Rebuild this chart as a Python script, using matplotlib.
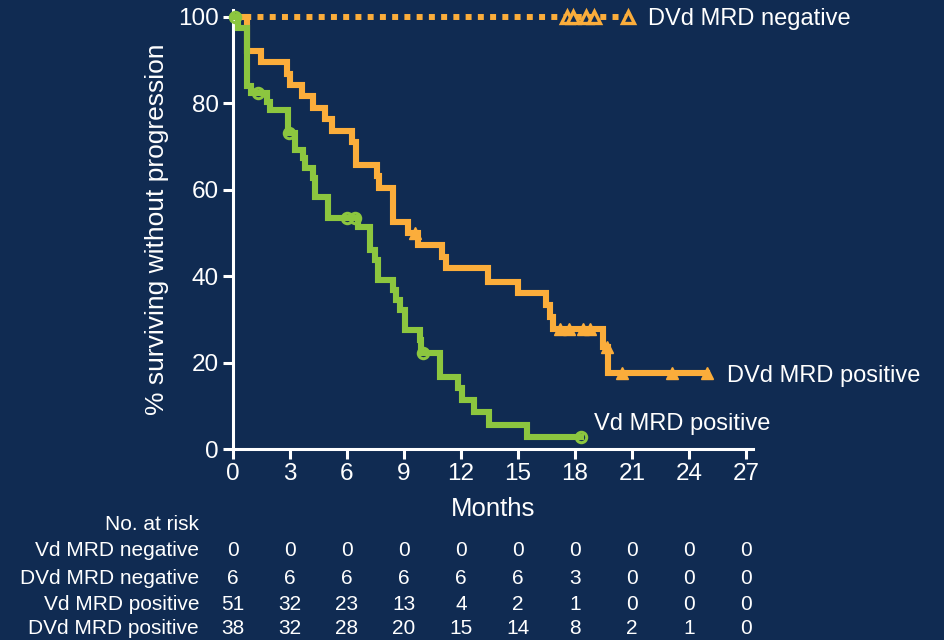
import matplotlib
matplotlib.use("Agg")
import matplotlib.pyplot as plt
from matplotlib.transforms import blended_transform_factory

plt.rcParams["font.family"] = ["Liberation Sans", "DejaVu Sans"]

BG = "#102b52"
ORANGE = "#fbad3b"
GREEN = "#8cc63f"
FG = "white"

# Kaplan-Meier step curves (time in months, % surviving after each step)
vd_pos_t = [0, 0.25, 0.72, 0.95, 1.8, 1.95, 2.9, 3.26, 3.7, 3.8, 4.2, 4.3, 5.0, 6.6,
            7.2, 7.47, 7.63, 8.4, 8.6, 8.8, 9.05, 9.84, 9.9, 10.9, 11.84, 12.05,
            12.7, 13.5, 15.5, 18.3]
vd_pos_s = [100, 97.5, 84.0, 82.5, 80.4, 78.4, 73.2, 69.2, 67.3, 65.0, 62.7, 58.3,
            53.5, 51.4, 46.1, 43.8, 39.1, 36.8, 34.5, 32.2, 27.5, 25.2, 22.2, 16.7,
            14.1, 11.3, 8.6, 5.6, 2.8, 2.8]
vd_pos_cens_t = [0.1, 1.3, 2.97, 6.0, 6.4, 10.0, 18.3]
vd_pos_cens_s = [100, 82.5, 73.2, 53.5, 53.5, 22.2, 2.8]

dvd_pos_t = [0, 0.72, 1.47, 2.84, 3.0, 3.63, 4.2, 4.84, 5.2, 6.26, 6.5, 7.58, 7.68,
             8.42, 9.2, 9.74, 11.0, 11.2, 13.4, 15.0, 16.5, 16.7, 16.85, 19.5,
             19.75, 24.95]
dvd_pos_s = [100, 92.1, 89.5, 86.8, 84.2, 81.6, 78.9, 76.3, 73.7, 71.1, 65.8, 63.2,
             60.5, 52.6, 50.0, 47.2, 44.4, 41.9, 38.7, 36.1, 33.3, 30.6, 27.8, 23.5,
             17.6, 17.6]
dvd_pos_cens_t = [9.58, 17.2, 17.7, 18.4, 18.8, 19.68, 20.5, 23.1, 24.95]
dvd_pos_cens_s = [50.0, 27.8, 27.8, 27.8, 27.8, 23.5, 17.6, 17.6, 17.6]

dvd_neg_t = [0, 20.8]
dvd_neg_s = [100, 100]
dvd_neg_cens_t = [17.6, 17.9, 18.6, 19.0, 20.8]
dvd_neg_cens_s = [100, 100, 100, 100, 100]

# Number-at-risk table
risk_times = [0, 3, 6, 9, 12, 15, 18, 21, 24, 27]
risk_rows = ["Vd MRD negative", "DVd MRD negative", "Vd MRD positive", "DVd MRD positive"]
risk_vd_neg = [0, 0, 0, 0, 0, 0, 0, 0, 0, 0]
risk_dvd_neg = [6, 6, 6, 6, 6, 6, 3, 0, 0, 0]
risk_vd_pos = [51, 32, 23, 13, 4, 2, 1, 0, 0, 0]
risk_dvd_pos = [38, 32, 28, 20, 15, 14, 8, 2, 1, 0]

y_ticks = [0, 20, 40, 60, 80, 100]

W, H = 944, 640
fig = plt.figure(figsize=(W / 100, H / 100), dpi=100, facecolor=BG)
ax = fig.add_axes([233 / W, 1 - 449 / H, (753 - 233) / W, (449 - 10) / H])
ax.set_facecolor(BG)
ax.set_xlim(0, 27.37)
ax.set_ylim(0, 101.6)

lw = 4.4
ax.step(dvd_neg_t, dvd_neg_s, where="post", color=ORANGE, lw=4.3,
        linestyle=(0, (1, 1.05)), dash_capstyle="butt", clip_on=False, zorder=3)
ax.plot(dvd_neg_cens_t, dvd_neg_cens_s, "^", color=ORANGE, ms=8, mfc=BG, mew=2.4,
        clip_on=False, zorder=4)

ax.step(dvd_pos_t, dvd_pos_s, where="post", color=ORANGE, lw=lw, clip_on=False,
        zorder=3, solid_joinstyle="miter")
ax.plot(dvd_pos_cens_t, dvd_pos_cens_s, "^", color=ORANGE, ms=9, clip_on=False, zorder=4)

ax.step(vd_pos_t, vd_pos_s, where="post", color=GREEN, lw=lw, clip_on=False,
        zorder=5, solid_joinstyle="miter")
ax.plot(vd_pos_cens_t, vd_pos_cens_s, "o", color=GREEN, ms=7.5, mfc="none", mew=2.2,
        clip_on=False, zorder=6)

# Curve labels
ax.text(21.84, 99.5, "DVd MRD negative", color=FG, fontsize=17, va="center", ha="left")
ax.text(26.0, 16.9, "DVd MRD positive", color=FG, fontsize=17, va="center", ha="left")
ax.text(19.0, 5.8, "Vd MRD positive", color=FG, fontsize=17, va="center", ha="left")

# Axes styling
for side in ("top", "right"):
    ax.spines[side].set_visible(False)
for side in ("left", "bottom"):
    ax.spines[side].set_color(FG)
    ax.spines[side].set_linewidth(2.2)
ax.set_xticks(risk_times)
ax.set_yticks(y_ticks)
ax.tick_params(colors=FG, labelcolor=FG, labelsize=17.5, width=2.2, length=7,
               direction="out")
ax.tick_params(axis="x", pad=3)
ax.tick_params(axis="y", pad=3)
ax.set_xlabel("Months", color=FG, fontsize=18.5, labelpad=9)
ax.set_ylabel("% surviving without progression", color=FG, fontsize=19, labelpad=7)

# Number at risk below the plot
tr = blended_transform_factory(ax.transData, fig.transFigure)
fig.text(199 / W, 1 - 524 / H, "No. at risk", color=FG, fontsize=15,
         ha="right", va="center")
row_y = [551, 578, 604, 628]
row_vals = [risk_vd_neg, risk_dvd_neg, risk_vd_pos, risk_dvd_pos]
for name, yy, vals in zip(risk_rows, row_y, row_vals):
    fig.text(199 / W, 1 - yy / H, name, color=FG, fontsize=15, ha="right", va="center")
    for t, v in zip(risk_times, vals):
        ax.text(t, 1 - yy / H, str(v), color=FG, fontsize=15, ha="center",
                va="center", transform=tr, clip_on=False)

fig.savefig("out.png", dpi=100, facecolor=BG)
